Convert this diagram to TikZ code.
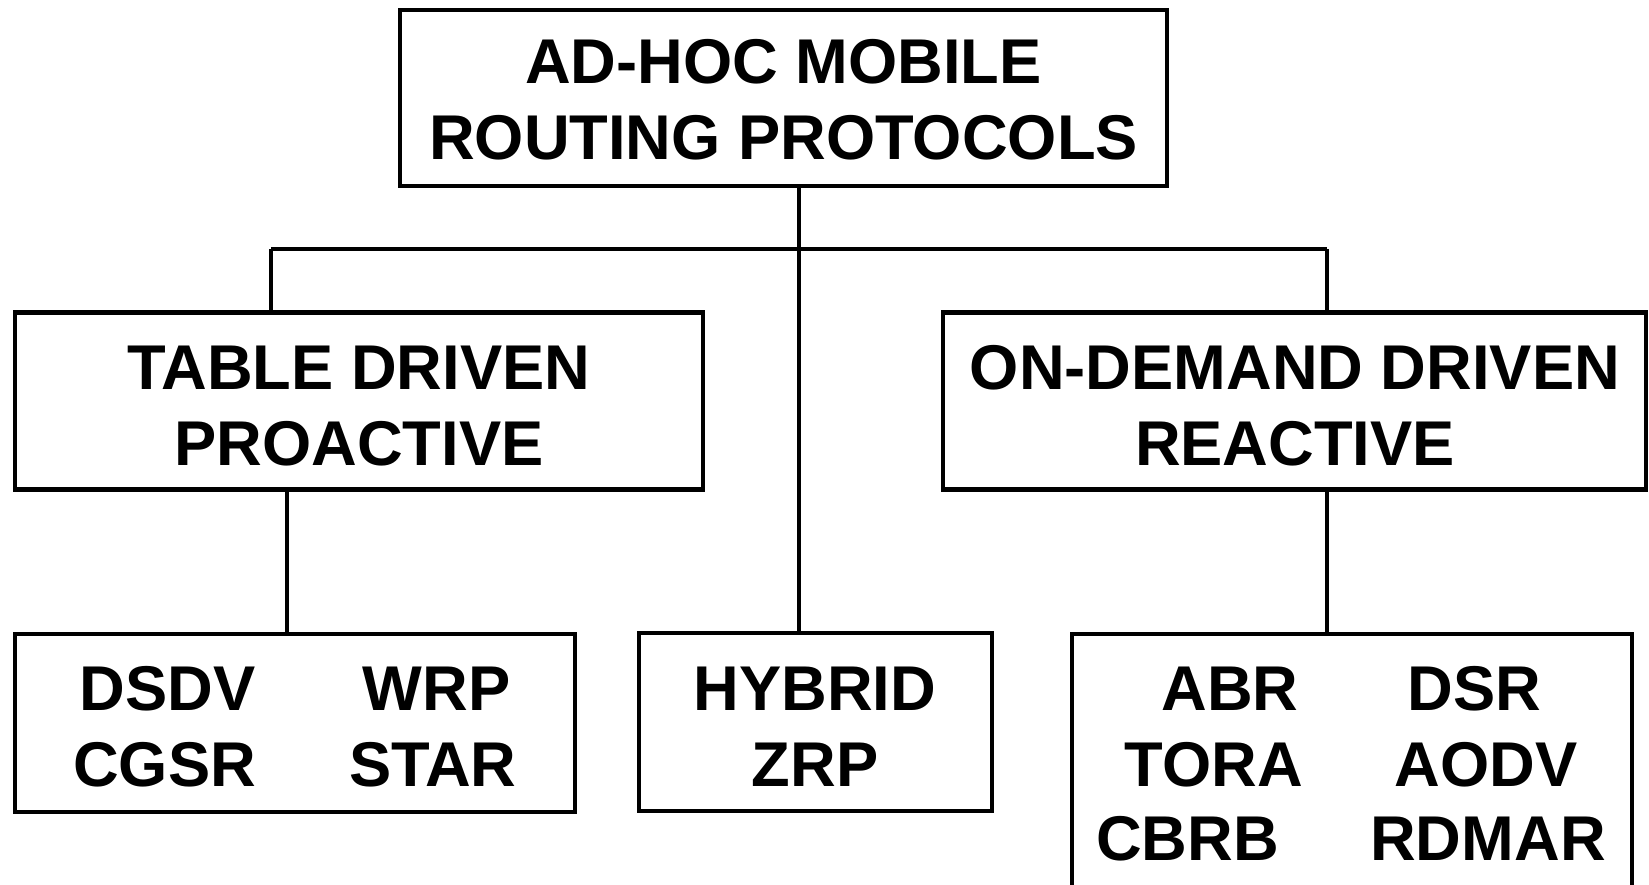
\documentclass[tikz,border=0pt]{standalone}
\usepackage{fontspec}
\setmainfont{Liberation Sans}
\begin{document}
\begin{tikzpicture}[x=0.02cm,y=-0.02cm,
  box/.style={draw=black,line width=2.3pt,inner sep=0pt,rectangle},
  lbl/.style={inner sep=0pt,anchor=base,font=\fontsize{36}{43}\selectfont\bfseries},
  conn/.style={draw=black,line width=2.1pt}]
\clip (0,0) rectangle (1649,885);
\useasboundingbox (0,0) rectangle (1649,885);
% boxes
\node[box,minimum width=767*0.02cm,minimum height=176*0.02cm] (root) at (783.5,98) {};
\node[box,minimum width=688*0.02cm,minimum height=177*0.02cm] (table) at (359,401) {};
\node[box,minimum width=703*0.02cm,minimum height=177*0.02cm] (demand) at (1294.5,401) {};
\node[box,minimum width=560*0.02cm,minimum height=178*0.02cm] (tlist) at (295,723) {};
\node[box,minimum width=353*0.02cm,minimum height=178*0.02cm] (hybrid) at (815.5,722) {};
\node[box,minimum width=560*0.02cm,minimum height=340*0.02cm] (dlist) at (1352,804) {};
% texts
\node[lbl] (r1) at (783.5,84) {AD-HOC MOBILE};
\node[lbl] (r2) at (783.5,160) {ROUTING PROTOCOLS};
\node[lbl] (t1) at (359,389) {TABLE DRIVEN};
\node[lbl] (t2) at (359,465) {PROACTIVE};
\node[lbl] (d1) at (1295,389) {ON-DEMAND DRIVEN};
\node[lbl] (d2) at (1295,465) {REACTIVE};
\node[lbl] (dsdv) at (167.7,710) {DSDV};
\node[lbl] (cgsr) at (164.6,786) {CGSR};
\node[lbl] (wrp) at (436.5,710) {WRP};
\node[lbl] (star) at (432.8,786) {STAR};
\node[lbl] (hyb) at (815,710) {HYBRID};
\node[lbl] (zrp) at (815,786) {ZRP};
\node[lbl] (abr) at (1230,710) {ABR};
\node[lbl] (tora) at (1214,786) {TORA};
\node[lbl] (cbrb) at (1187.4,860) {CBRB};
\node[lbl] (dsr) at (1474.5,710) {DSR};
\node[lbl] (aodv) at (1486,786) {AODV};
\node[lbl] (rdmar) at (1488,860) {RDMAR};
% connectors
\coordinate (busL) at (271,249);
\coordinate (busM) at (799,249);
\coordinate (busR) at (1327,249);
\draw[conn] (busL) -- (busR);
\draw[conn] (root.south -| busM) -- (hybrid.north -| busM);
\draw[conn] (busL) -- (table.north -| busL);
\draw[conn] (busR) -- (demand.north -| busR);
\coordinate (tl) at (287,0);
\coordinate (dl) at (1327,0);
\draw[conn] (table.south -| tl) -- (tlist.north -| tl);
\draw[conn] (demand.south -| dl) -- (dlist.north -| dl);
\end{tikzpicture}
\end{document}
